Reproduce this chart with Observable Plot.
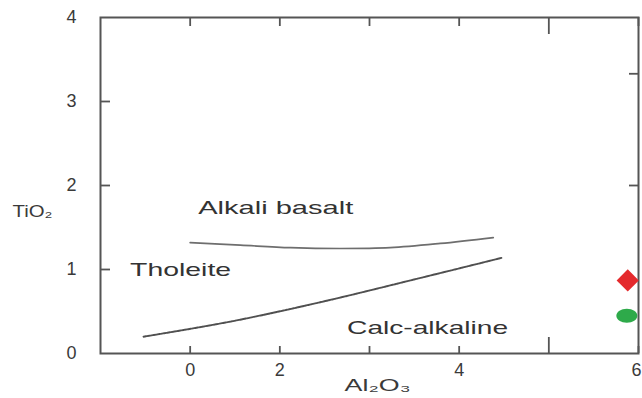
<!DOCTYPE html>
<html>
<head>
<meta charset="utf-8">
<script src="https://cdn.jsdelivr.net/npm/d3@7"></script>
<script src="https://cdn.jsdelivr.net/npm/@observablehq/plot@0.6"></script>
<style>
  html, body { margin: 0; padding: 0; background: #fff; }
  svg { display: block; }
</style>
</head>
<body>
<div id="chart"></div>
<script>
// ---- data ----
const xTicks = [0, 1, 2, 3, 4, 5];
const xTickLabels = ["0", "2", "", "4", "", "6"];
const yTicks = [0, 1, 2, 3, 4];
const yTickLabels = ["0", "1", "2", "3", "4"];
const rightTicks = [2, 3.33];

// Alkali basalt / Tholeite boundary
const upperX = [0.0, 0.56, 1.12, 1.67, 2.23, 2.79, 3.38];
const upperY = [1.32, 1.29, 1.26, 1.25, 1.26, 1.31, 1.38];
// Tholeite / Calc-alkaline boundary
const lowerX = [-0.52, 0.45, 1.45, 2.57, 3.48];
const lowerY = [0.20, 0.38, 0.61, 0.90, 1.14];

const regionNames = ["Alkali basalt", "Tholeite", "Calc-alkaline"];
const regionX = [0.09, -0.67, 1.75];
const regionY = [1.73, 1.0, 0.31];

const sampleX = [4.88, 4.87];
const sampleY = [0.87, 0.45];
const sampleColor = ["#e42a2d", "#2eaa4a"];
const sampleSymbol = ["diamond2", "ellipse"];

// ---- layout ----
const W = 642, H = 398;
const mL = 100, mR = 4, mT = 17, mB = 45;
const kx = 6 / (W - mL - mR);   // data units per px (x)
const ky = 4 / (H - mT - mB);   // data units per px (y)

const upper = upperX.map((x, i) => ({x, y: upperY[i]}));
const lower = lowerX.map((x, i) => ({x, y: lowerY[i]}));
const regions = regionNames.map((name, i) => ({name, x: regionX[i], y: regionY[i]}));
const samples = sampleX.map((x, i) => ({x, y: sampleY[i], c: sampleColor[i], s: sampleSymbol[i]}));
const xLabels = xTicks.map((x, i) => ({x, label: xTickLabels[i]})).filter(d => d.label !== "");
const lastX = xTicks[xTicks.length - 1];

const ellipse = {
  draw(ctx, size) {
    const r = Math.sqrt(size / Math.PI);
    const rx = r * 1.5, ry = r, k = 0.5523;
    ctx.moveTo(-rx, 0);
    ctx.bezierCurveTo(-rx, -ry * k, -rx * k, -ry, 0, -ry);
    ctx.bezierCurveTo(rx * k, -ry, rx, -ry * k, rx, 0);
    ctx.bezierCurveTo(rx, ry * k, rx * k, ry, 0, ry);
    ctx.bezierCurveTo(-rx * k, ry, -rx, ry * k, -rx, 0);
    ctx.closePath();
  }
};

const axisColor = "#555";
const textColor = "#3a3a3a";

const chart = Plot.plot({
  width: W,
  height: H,
  marginLeft: mL, marginRight: mR, marginTop: mT, marginBottom: mB,
  x: {domain: [-1, 5], axis: null},
  y: {domain: [0, 4], axis: null},
  style: {fontFamily: "Liberation Sans, Arial, sans-serif", background: "#fff"},
  marks: [
    // boundary lines
    Plot.line(upper, {x: "x", y: "y", curve: "catmull-rom", stroke: "#6e6e6e", strokeWidth: 1.7}),
    Plot.line(lower, {x: "x", y: "y", curve: "catmull-rom", stroke: "#505050", strokeWidth: 1.9, strokeDasharray: "2.5 1"}),
    // frame
    Plot.frame({stroke: axisColor, strokeWidth: 2}),
    // bottom ticks (inward)
    Plot.ruleX(xTicks, {x: d => d, y1: 0, y2: d => (d === 4 ? 16 : 7) * ky, stroke: axisColor, strokeWidth: 1.8}),
    // top ticks (inward)
    Plot.ruleX(xTicks, {x: d => d, y1: 4, y2: d => 4 - (d === 4 ? 17 : 9) * ky, stroke: axisColor, strokeWidth: 1.8}),
    // left ticks (inward)
    Plot.ruleY(yTicks.slice(1, -1), {y: d => d, x1: -1, x2: -1 + 10 * kx, stroke: axisColor, strokeWidth: 1.8}),
    // right ticks (inward)
    Plot.ruleY(rightTicks, {y: d => d, x1: 5 - 9 * kx, x2: 5, stroke: axisColor, strokeWidth: 1.8}),
    // tick labels
    Plot.text(xLabels.filter(d => d.x !== lastX), {x: "x", y: 0, text: "label", dy: 17, fontSize: 18, fill: textColor}),
    Plot.text(xLabels.filter(d => d.x === lastX), {x: "x", y: 0, text: "label", dy: 17, dx: 3, textAnchor: "end", fontSize: 18, fill: textColor}),
    Plot.text(yTicks, {x: -1, y: d => d, text: (d, i) => yTickLabels[i], dx: -29, fontSize: 18, fill: textColor}),
    // axis titles
    Plot.text(["TiO\u2082"], {x: -1, y: 1.69, dx: -68, text: d => d, fontSize: 17, fill: textColor}),
    Plot.text(["Al\u2082O\u2083"], {x: 2.09, y: 0, dy: 32, text: d => d, fontSize: 17, fill: textColor}),
    // region labels
    Plot.text(regions, {x: "x", y: "y", text: "name", textAnchor: "start", fontSize: 19, fill: "#333"}),
    // sample markers
    Plot.dot(samples.filter(d => d.s === "diamond2"), {x: "x", y: "y", fill: "c", symbol: "diamond2", r: 10}),
    Plot.dot(samples.filter(d => d.s === "ellipse"), {x: "x", y: "y", fill: "c", symbol: ellipse, r: 7})
  ]
});

// stretch labels to the reference's wide lettering
const labelWidths = {"Alkali basalt": 155, "Tholeite": 101, "Calc-alkaline": 161, "TiO\u2082": 40, "Al\u2082O\u2083": 66};
d3.select(chart).selectAll("text").each(function () {
  const w = labelWidths[this.textContent];
  if (w) {
    this.setAttribute("textLength", w);
    this.setAttribute("lengthAdjust", "spacingAndGlyphs");
  }
});

document.getElementById("chart").appendChild(chart);
</script>
</body>
</html>
